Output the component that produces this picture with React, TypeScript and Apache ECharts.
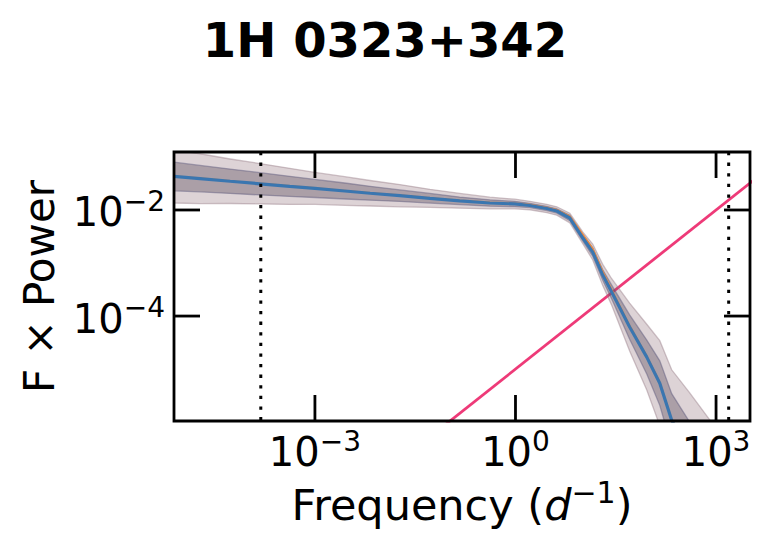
import React, { useEffect, useRef } from 'react';
import * as echarts from 'echarts';

const FONT = 'DejaVu Sans';

// frequency grid (d^-1)
const freq = [7.8e-6, 1.91e-5, 5.4e-5, 1.51e-4, 4.2e-4, 1.0e-3, 2.8e-3, 6.7e-3, 0.0187, 0.0525, 0.147, 0.414, 0.98, 1.64, 2.94, 4.15, 6.5, 10.2, 14.3, 20.2, 27.5, 51, 92, 144, 217, 404, 1120];
const bluePower = [0.0429, 0.0390, 0.0348, 0.0312, 0.0279, 0.0255, 0.0228, 0.0207, 0.0186, 0.0166, 0.0149, 0.01355, 0.0130, 0.01216, 0.01067, 0.00958, 0.00706, 0.00296, 0.00161, 5.94e-4, 2.84e-4, 6.2e-5, 1.68e-5, 5.4e-6, 1.09e-6, 2.5e-7, 2.5e-8];
const orangePower = [0.0435, 0.0395, 0.0352, 0.0316, 0.0283, 0.0259, 0.0231, 0.0210, 0.0189, 0.0169, 0.0151, 0.0138, 0.0133, 0.0125, 0.0110, 0.0100, 0.0076, 0.0034, 0.00185, 6.8e-4, 3.1e-4, 6.6e-5, 1.75e-5, 5.6e-6, 1.12e-6, 2.6e-7, 2.6e-8];
const outerHi = [0.1355, 0.1150, 0.0915, 0.0750, 0.0610, 0.0510, 0.0425, 0.0360, 0.0302, 0.0245, 0.0205, 0.01746, 0.01596, 0.01460, 0.01280, 0.01150, 0.00870, 0.00382, 0.00228, 9.42e-4, 5.05e-4, 1.746e-4, 7.0e-5, 3.44e-5, 9.7e-6, 3.55e-6, 6.3e-7];
const outerLo = [0.01355, 0.0132, 0.01325, 0.01300, 0.01275, 0.01280, 0.01225, 0.01190, 0.01145, 0.01125, 0.01080, 0.01052, 0.01054, 0.01010, 0.00890, 0.00798, 0.00573, 0.0023, 0.001143, 3.75e-4, 1.6e-4, 2.2e-5, 4.04e-6, 8.6e-7, 1.22e-7, 1.78e-8, 1e-9];
const innerHi = [0.0798, 0.0692, 0.0591, 0.0506, 0.0432, 0.0377, 0.0323, 0.0280, 0.0239, 0.0205, 0.01750, 0.01556, 0.01456, 0.01333, 0.01170, 0.01050, 0.00792, 0.0034, 0.00194, 7.48e-4, 3.83e-4, 1.05e-4, 3.52e-5, 1.43e-5, 3.45e-6, 1.0e-6, 1.41e-7];
const innerLo = [0.0230, 0.0220, 0.0205, 0.0192, 0.0180, 0.0172, 0.0161, 0.0153, 0.0145, 0.01350, 0.01265, 0.0118, 0.01156, 0.01110, 0.00973, 0.00874, 0.00630, 0.00258, 0.001343, 4.72e-4, 2.1e-4, 3.65e-5, 8.05e-6, 2.07e-6, 3.45e-7, 6.3e-8, 4.5e-9];

// reference power law
const pinkFreq = [0.01, 1e4];
const pinkPower = [1e-7, 0.1];

// vertical markers
const markerFreqs = [1.55e-4, 1545];

// axes
const xMin = 7.8e-6;
const xMax = 3220;
const yMin = 1.05e-6;
const yMax = 0.124;
const xTicks = [1e-3, 1, 1e3];
const yTicks = [1e-2, 1e-4];

const TICK = 26;
const isTick = (v: number, list: number[]) => list.some((t) => Math.abs(Math.log10(v) - Math.log10(t)) < 1e-6);
const expLabel = (v: number) => {
  const e = Math.round(Math.log10(v));
  return `{b|10}{s|${e < 0 ? '\u2212' + Math.abs(e) : e}}`;
};

const labelRich = {
  b: { fontSize: 40, fontFamily: FONT, color: '#000', verticalAlign: 'bottom' },
  s: { fontSize: 28, fontFamily: FONT, color: '#000', verticalAlign: 'bottom', padding: [0, 0, 17, 0] },
};

function band(name: string, lo: number[], hi: number[], fill: string, stroke: string, z: number) {
  return {
    type: 'custom',
    name,
    clip: true,
    silent: true,
    z,
    data: freq.map((f, i) => [f, lo[i], hi[i]]),
    encode: { x: 0, y: [1, 2] },
    renderItem: (params: any, api: any) => {
      if (params.dataIndex !== 0) return null;
      const top = freq.map((f, i) => api.coord([f, hi[i]]));
      const bot = freq.map((f, i) => api.coord([f, lo[i]])).reverse();
      return {
        type: 'polygon',
        shape: { points: top.concat(bot) },
        style: { fill, stroke, lineWidth: 1.3 },
      };
    },
  };
}

export default function App() {
  const ref = useRef<HTMLDivElement>(null);
  useEffect(() => {
    const chart = echarts.init(ref.current!, null, { renderer: 'svg' });
    const option: any = {
      animation: false,
      backgroundColor: '#fff',
      title: {
        text: '1H 0323+342',
        left: 'center',
        top: 11,
        textStyle: { fontSize: 48, fontWeight: 'bold', fontFamily: FONT, color: '#000' },
      },
      grid: { left: 174, top: 152, width: 576, height: 269, show: false },
      xAxis: {
        type: 'log',
        logBase: 10,
        min: xMin,
        max: xMax,
        axisLine: { show: false },
        axisTick: { show: false },
        splitLine: { show: false },
        axisLabel: {
          margin: 6,
          formatter: (v: number) => (isTick(v, xTicks) ? expLabel(v) : ''),
          rich: labelRich,
        },
        name: '{n|Frequency (}{i|d}{s|\u22121}{n|)}',
        nameLocation: 'middle',
        nameGap: 56,
        nameTextStyle: {
          rich: {
            n: { fontSize: 43, fontFamily: FONT, color: '#000', verticalAlign: 'bottom' },
            i: { fontSize: 43, fontFamily: FONT, fontStyle: 'italic', color: '#000', verticalAlign: 'bottom' },
            s: { fontSize: 30, fontFamily: FONT, color: '#000', verticalAlign: 'bottom', padding: [0, 0, 19, 0] },
          },
        },
      },
      yAxis: {
        type: 'log',
        logBase: 10,
        min: yMin,
        max: yMax,
        axisLine: { show: false },
        axisTick: { show: false },
        splitLine: { show: false },
        axisLabel: {
          margin: 9,
          formatter: (v: number) => (isTick(v, yTicks) ? expLabel(v) : ''),
          rich: labelRich,
        },
        name: 'F \u00d7 Power',
        nameLocation: 'middle',
        nameGap: 114,
        nameTextStyle: { fontSize: 42, fontFamily: FONT, color: '#000' },
      },
      series: [
        {
          type: 'line',
          name: 'powerlaw',
          data: pinkFreq.map((f, i) => [f, pinkPower[i]]),
          symbol: 'none',
          z: 1,
          lineStyle: { color: '#ee3a78', width: 2.8 },
        },
        band('outer', outerLo, outerHi, 'rgba(120,80,90,0.25)', 'rgba(150,125,135,0.45)', 2),
        band('inner', innerLo, innerHi, 'rgba(100,85,100,0.41)', 'rgba(100,95,130,0.5)', 3),
        {
          type: 'line',
          name: 'orange',
          data: freq.map((f, i) => [f, orangePower[i]]),
          symbol: 'none',
          z: 4,
          lineStyle: { color: '#f08a3c', width: 2 },
        },
        {
          type: 'line',
          name: 'blue',
          data: freq.map((f, i) => [f, bluePower[i]]),
          symbol: 'none',
          z: 5,
          lineStyle: { color: '#3a76b0', width: 3.2 },
        },
        {
          type: 'custom',
          name: 'markers',
          clip: true,
          silent: true,
          z: 6,
          data: markerFreqs.map((f) => [f, yMin]),
          renderItem: (params: any, api: any) => {
            const f = api.value(0);
            const b = api.coord([f, yMin]);
            const t = api.coord([f, yMax]);
            return {
              type: 'line',
              shape: { x1: t[0], y1: t[1], x2: b[0], y2: b[1] },
              style: { stroke: '#000', lineWidth: 3, lineDash: [3.3, 7.3] },
            };
          },
        },
        {
          type: 'custom',
          name: 'xticks',
          clip: false,
          silent: true,
          z: 20,
          data: xTicks.map((v) => [v, yMin]),
          renderItem: (params: any, api: any) => {
            const v = api.value(0);
            const b = api.coord([v, yMin]);
            const t = api.coord([v, yMax]);
            const st = { stroke: '#000', lineWidth: 2.8 };
            const children: any[] = [
              { type: 'line', shape: { x1: b[0], y1: b[1], x2: b[0], y2: b[1] - TICK }, style: st },
              { type: 'line', shape: { x1: t[0], y1: t[1], x2: t[0], y2: t[1] + TICK }, style: st },
            ];
            if (params.dataIndex === 0) {
              const tl = api.coord([xMin, yMax]);
              const br = api.coord([xMax, yMin]);
              children.push({
                type: 'rect',
                shape: { x: tl[0], y: tl[1], width: br[0] - tl[0], height: br[1] - tl[1] },
                style: { fill: 'none', stroke: '#000', lineWidth: 2.8 },
              });
            }
            return { type: 'group', children };
          },
        },
        {
          type: 'custom',
          name: 'yticks',
          clip: false,
          silent: true,
          z: 20,
          data: yTicks.map((v) => [xMin, v]),
          renderItem: (params: any, api: any) => {
            const v = api.value(1);
            const l = api.coord([xMin, v]);
            const r = api.coord([xMax, v]);
            const st = { stroke: '#000', lineWidth: 2.8 };
            return {
              type: 'group',
              children: [
                { type: 'line', shape: { x1: l[0], y1: l[1], x2: l[0] + TICK, y2: l[1] }, style: st },
                { type: 'line', shape: { x1: r[0], y1: r[1], x2: r[0] - TICK, y2: r[1] }, style: st },
              ],
            };
          },
        },
      ],
    };
    chart.setOption(option);
    return () => chart.dispose();
  }, []);
  return <div ref={ref} style={{ position: 'fixed', left: 0, top: 0, width: 770, height: 553 }} />;
}
